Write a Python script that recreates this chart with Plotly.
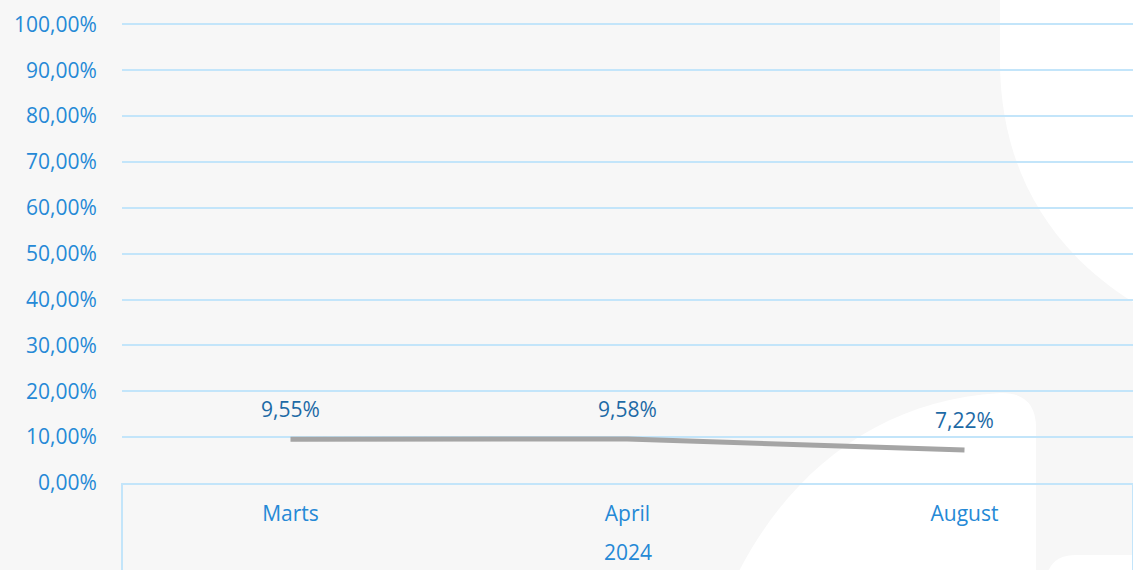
import plotly.graph_objects as go

months = ["Marts", "April", "August"]
year_label = "2024"
values = [9.55, 9.58, 7.22]
y_ticks = [0, 10, 20, 30, 40, 50, 60, 70, 80, 90, 100]
y_ticktext = [f"{v:.2f}%".replace(".", ",") for v in y_ticks]

W, H = 1133, 570
L, R, T, B = 122, 0, 23, 87
PW, PH = W - L - R, H - T - B

def px(x, y):
    return (x - L) / PW, (H - B - y) / PH

def path(cmds):
    out = []
    for c in cmds:
        if isinstance(c, str):
            out.append(c)
        else:
            xx, yy = px(*c)
            out.append(f"{xx:.4f},{yy:.4f}")
    return " ".join(out)

BLUE = "#2589d6"
DARK = "#1d6aa6"
GRID = "#c3e5fa"
FONT = "Open Sans"

fig = go.Figure()
fig.add_trace(go.Scatter(
    x=months, y=values, mode="lines",
    line=dict(color="#a5a5a5", width=5),
    hoverinfo="skip", showlegend=False,
))

for m, v in zip(months, values):
    fig.add_annotation(
        x=m, y=v, xref="x", yref="y",
        text=f"{v:.2f}%".replace(".", ","),
        showarrow=False, yshift=30,
        font=dict(size=21, color=DARK, family=FONT),
    )

# group label under the month labels
gx, gy = px(0, 568)
fig.add_annotation(x=0.5, y=gy, xref="paper", yref="paper", text=year_label,
                   showarrow=False, yanchor="bottom",
                   font=dict(size=21, color=BLUE, family=FONT))

# decorative white shapes in background
shapes = [
    path(["M", (1000, -5), "L", (1000, 60), "C", (1000, 170), (1050, 250), (1133, 302), "L", (1133, -5), "Z"]),
    path(["M", (737, 575), "C", (790, 470), (880, 400), (1000, 393), "Q", (1036, 392), (1036, 428), "L", (1036, 575), "Z"]),
    path(["M", (1047, 575), "Q", (1052, 555), (1076, 555), "L", (1140, 555), "L", (1140, 575), "Z"]),
]
for p in shapes:
    fig.add_shape(type="path", path=p, xref="paper", yref="paper",
                  fillcolor="white", line=dict(width=0), layer="below")

# category group dividers
_, ybot = px(0, 575)
for xd in (0, 1):
    fig.add_shape(type="line", x0=xd, x1=xd, y0=0, y1=ybot, xref="paper", yref="paper",
                  line=dict(color=GRID, width=2), layer="below")

fig.update_layout(
    width=W, height=H,
    margin=dict(l=L, r=R, t=T, b=B),
    paper_bgcolor="#f7f7f7", plot_bgcolor="rgba(0,0,0,0)",
    font=dict(family=FONT, size=21, color=BLUE),
    xaxis=dict(
        type="category", range=[-0.5, 2.5],
        showgrid=False, showline=True, linecolor=GRID, linewidth=2,
        tickfont=dict(size=21, color=BLUE, family=FONT),
        ticks="outside", ticklen=11, tickcolor="rgba(0,0,0,0)",
    ),
    yaxis=dict(
        range=[0, 100.3], tickvals=y_ticks, ticktext=y_ticktext,
        showgrid=True, gridcolor=GRID, gridwidth=2,
        zeroline=False, showline=False,
        ticks="outside", ticklen=20, tickcolor="rgba(0,0,0,0)",
        tickfont=dict(size=21, color=BLUE, family=FONT),
    ),
)

fig.write_html("out.html", config={"displayModeBar": False},
               post_script="document.body.style.margin='0';document.body.style.overflow='hidden';")
